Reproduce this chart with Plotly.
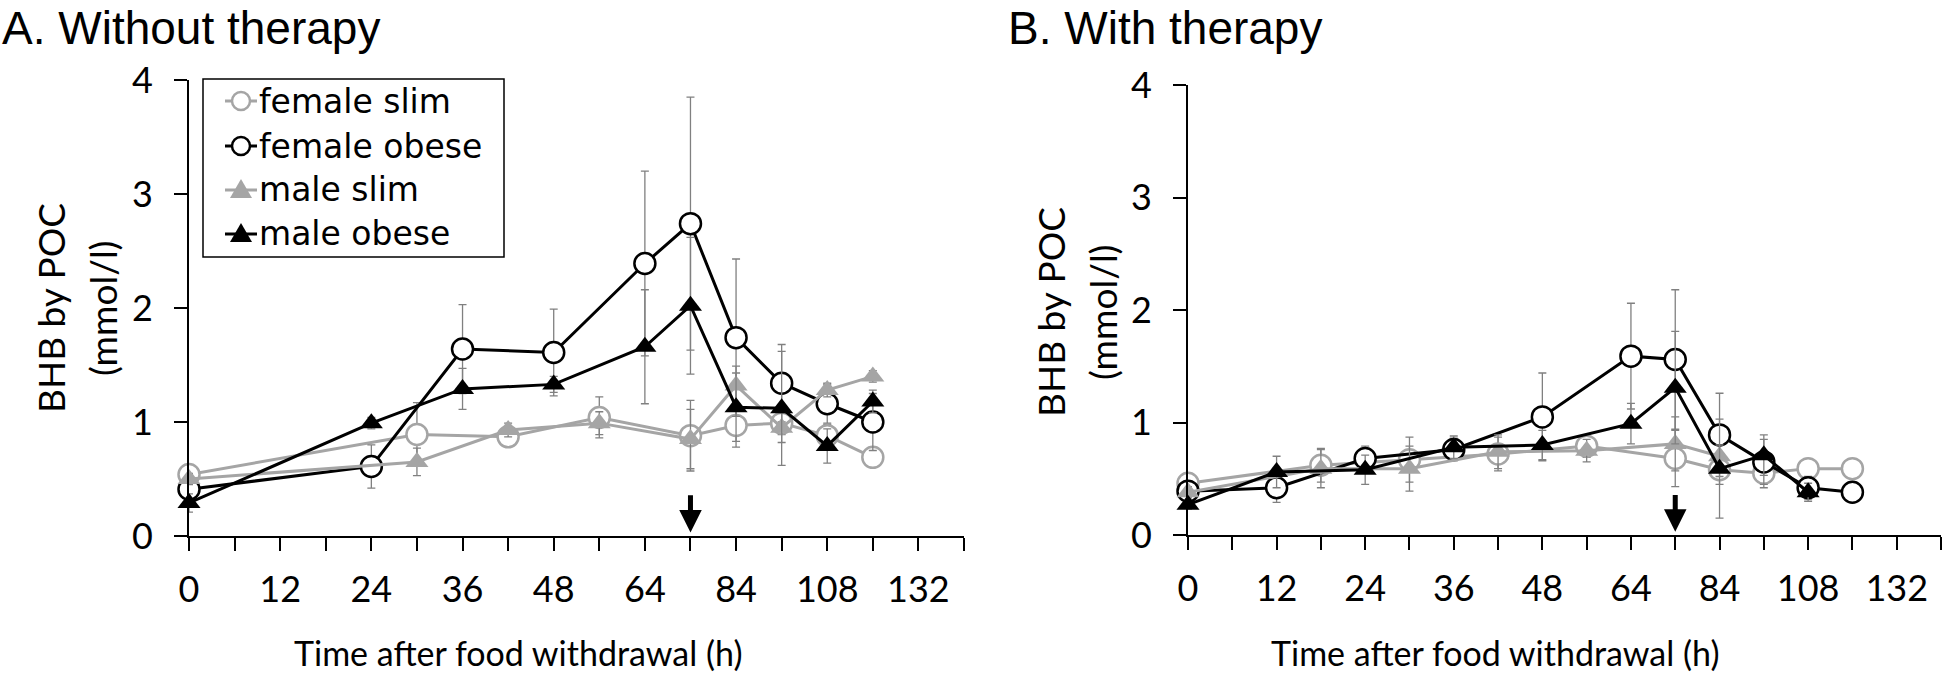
import plotly.graph_objects as go

# ---------------- data ----------------
# equally spaced time categories of the x axis (h); every second one is labelled
time_categories = [0, 6, 12, 18, 24, 30, 36, 42, 48, 56, 64, 72, 84, 96, 108, 120, 132, 144]
y_ticks = [0, 1, 2, 3, 4]
arrow_time = 72

series_names = ["female slim", "female obese", "male slim", "male obese"]

# A. Without therapy
a_female_slim_h = [0, 30, 42, 56, 72, 84, 96, 108, 120]
a_female_slim_v = [0.54, 0.89, 0.87, 1.04, 0.88, 0.97, 0.99, 0.88, 0.69]
a_female_slim_e = [0.05, 0.28, 0.07, 0.18, 0.31, 0.19, 0.10, 0.10, 0.08]

a_female_obese_h = [0, 24, 36, 48, 64, 72, 84, 96, 108, 120]
a_female_obese_v = [0.41, 0.61, 1.64, 1.61, 2.39, 2.74, 1.74, 1.34, 1.16, 1.00]
a_female_obese_e = [0.05, 0.19, 0.39, 0.38, 0.81, 1.11, 0.69, 0.34, 0.17, 0.25]

a_male_slim_h = [0, 30, 42, 56, 72, 84, 96, 108, 120]
a_male_slim_v = [0.50, 0.65, 0.93, 0.99, 0.85, 1.32, 0.95, 1.28, 1.40]
a_male_slim_e = [0.05, 0.12, 0.06, 0.10, 0.26, 0.17, 0.13, 0.06, 0.05]

a_male_obese_h = [0, 24, 36, 48, 64, 72, 84, 96, 108, 120]
a_male_obese_v = [0.29, 0.99, 1.29, 1.33, 1.66, 2.02, 1.13, 1.12, 0.79, 1.18]
a_male_obese_e = [0.08, 0.05, 0.18, 0.07, 0.50, 0.60, 0.30, 0.50, 0.15, 0.10]

# B. With therapy
b_female_slim_h = [0, 18, 30, 42, 56, 72, 84, 96, 108, 120]
b_female_slim_v = [0.46, 0.62, 0.67, 0.72, 0.79, 0.68, 0.58, 0.55, 0.59, 0.59]
b_female_slim_e = [0.05, 0.15, 0.20, 0.15, 0.10, 0.25, 0.13, 0.13, 0.05, 0.05]

b_female_obese_h = [0, 12, 24, 36, 48, 64, 72, 84, 96, 108, 120]
b_female_obese_v = [0.39, 0.42, 0.68, 0.76, 1.05, 1.59, 1.56, 0.89, 0.65, 0.42, 0.38]
b_female_obese_e = [0.04, 0.13, 0.11, 0.10, 0.39, 0.47, 0.62, 0.37, 0.20, 0.10, 0.05]

b_male_slim_h = [0, 18, 30, 42, 56, 72, 84]
b_male_slim_v = [0.38, 0.59, 0.59, 0.74, 0.75, 0.81, 0.70]
b_male_slim_e = [0.05, 0.17, 0.20, 0.15, 0.10, 0.24, 0.10]

b_male_obese_h = [0, 12, 24, 36, 48, 64, 72, 84, 96, 108]
b_male_obese_v = [0.27, 0.56, 0.58, 0.78, 0.80, 0.99, 1.31, 0.59, 0.71, 0.38]
b_male_obese_e = [0.04, 0.14, 0.13, 0.10, 0.13, 0.18, 0.50, 0.44, 0.18, 0.08]

# ---------------- styling ----------------
W, H = 1946, 677
GRAY = "#A5A5A5"
ERR = "#808080"
TXT_FONT = "Lato"
LEG_FONT = "DejaVu Sans"
TITLE_FONT = "Liberation Sans, Arial"
CIRCLE_SIZE = 21
TRI_SIZE = 20

styles = {
    "female slim": dict(color=GRAY, symbol="circle", fill="white"),
    "female obese": dict(color="black", symbol="circle", fill="white"),
    "male slim": dict(color=GRAY, symbol="triangle-up", fill=GRAY),
    "male obese": dict(color="black", symbol="triangle-up", fill="black"),
}


def cat_pos(hours):
    return [time_categories.index(h) for h in hours]


def px_x(p):
    return p / W


def px_y(p):
    return (H - p) / H


panels = [
    ("x", "y", [(a_female_slim_h, a_female_slim_v, a_female_slim_e),
                (a_female_obese_h, a_female_obese_v, a_female_obese_e),
                (a_male_slim_h, a_male_slim_v, a_male_slim_e),
                (a_male_obese_h, a_male_obese_v, a_male_obese_e)]),
    ("x2", "y2", [(b_female_slim_h, b_female_slim_v, b_female_slim_e),
                  (b_female_obese_h, b_female_obese_v, b_female_obese_e),
                  (b_male_slim_h, b_male_slim_v, b_male_slim_e),
                  (b_male_obese_h, b_male_obese_v, b_male_obese_e)]),
]

fig = go.Figure()
for xa, ya, series in panels:
    for name, (hrs, vals, errs) in zip(series_names, series):
        st = styles[name]
        is_circle = st["symbol"] == "circle"
        fig.add_trace(go.Scatter(
            x=cat_pos(hrs), y=vals, name=name, xaxis=xa, yaxis=ya,
            mode="lines+markers", showlegend=False, cliponaxis=False,
            line=dict(color=st["color"], width=3),
            marker=dict(symbol=st["symbol"], size=CIRCLE_SIZE if is_circle else TRI_SIZE,
                        color=st["fill"],
                        line=dict(color=st["color"], width=2.5 if is_circle else 0)),
            error_y=dict(type="data", array=errs, visible=True, color=ERR,
                         thickness=1.3, width=4),
        ))

tick_vals = list(range(len(time_categories)))
tick_text = [str(t) if i % 2 == 0 else "" for i, t in enumerate(time_categories)]

xaxis_common = dict(
    range=[0, len(time_categories) - 1], tickvals=tick_vals, ticktext=tick_text,
    showline=True, linecolor="black", linewidth=2, ticks="outside", ticklen=13,
    tickwidth=2, tickcolor="black", showgrid=False, zeroline=False, automargin=False,
    tickfont=dict(family=TXT_FONT, size=36, color="black"), ticklabelstandoff=8,
)
yaxis_common = dict(
    range=[0, 4], tickvals=y_ticks, showline=True, linecolor="black", linewidth=2,
    ticks="outside", ticklen=13, tickwidth=2, tickcolor="black", showgrid=False,
    zeroline=False, automargin=False, tickfont=dict(family=TXT_FONT, size=36, color="black"),
    ticklabelstandoff=14,
)

fig.update_layout(
    width=W, height=H, margin=dict(l=0, r=0, t=0, b=0, autoexpand=False),
    paper_bgcolor="white", plot_bgcolor="white", showlegend=False,
    xaxis=dict(domain=[px_x(189), px_x(964)], anchor="y", **xaxis_common),
    yaxis=dict(domain=[px_y(536), px_y(80)], anchor="x", **yaxis_common),
    xaxis2=dict(domain=[px_x(1188), px_x(1941)], anchor="y2", **xaxis_common),
    yaxis2=dict(domain=[px_y(535), px_y(85)], anchor="x2", **yaxis_common),
)

annotations = []
shapes = []
# panel titles
for txt, xpx in [("A. Without therapy", 0), ("B. With therapy", 1006)]:
    annotations.append(dict(text=txt, xref="paper", yref="paper", x=px_x(xpx), y=1.0,
                            xanchor="left", yanchor="top", showarrow=False,
                            font=dict(family=TITLE_FONT, size=46, color="black")))
# y-axis titles (two lines) and x-axis titles
for axis_px, yt_center, xt_center in [(189, 308, 518), (1188, 312, 1495)]:
    for line, off in [("BHB by POC", -138), ("(mmol/l)", -86)]:
        annotations.append(dict(text=line, xref="paper", yref="paper",
                                x=px_x(axis_px + off), y=px_y(yt_center), xanchor="center",
                                yanchor="middle", textangle=-90, showarrow=False,
                                font=dict(family=TXT_FONT, size=37, color="black")))
    annotations.append(dict(text="Time after food withdrawal (h)", xref="paper", yref="paper",
                            x=px_x(xt_center), y=px_y(652), xanchor="center", yanchor="middle",
                            showarrow=False, font=dict(family=TXT_FONT, size=34, color="black")))
# arrows marking the time point
for xa, ya in [("x", "y"), ("x2", "y2")]:
    p = time_categories.index(arrow_time)
    annotations.append(dict(text="", xref=xa, yref=ya, x=p, y=0.03, axref=xa, ayref=ya,
                            ax=p, ay=0.37, showarrow=True, arrowhead=2, arrowsize=0.9,
                            arrowwidth=5, arrowcolor="black", standoff=0))

# legend (panel A) drawn as a boxed key
leg_box = (203, 79, 504, 257)
leg_rows = [101, 146, 190, 234]
shapes.append(dict(type="rect", xref="paper", yref="paper",
                   x0=px_x(leg_box[0]), x1=px_x(leg_box[2]),
                   y0=px_y(leg_box[3]), y1=px_y(leg_box[1]),
                   line=dict(color="black", width=1.5), fillcolor="rgba(0,0,0,0)"))
for name, ry in zip(series_names, leg_rows):
    st = styles[name]
    shapes.append(dict(type="line", xref="paper", yref="paper",
                       x0=px_x(225), x1=px_x(257), y0=px_y(ry), y1=px_y(ry),
                       line=dict(color=st["color"], width=3)))
    if st["symbol"] == "circle":
        r = 9
        shapes.append(dict(type="circle", xref="paper", yref="paper",
                           x0=px_x(241 - r), x1=px_x(241 + r),
                           y0=px_y(ry + r), y1=px_y(ry - r),
                           fillcolor="white", line=dict(color=st["color"], width=2.5)))
    else:
        path = (f"M {px_x(230)} {px_y(ry + 8)} L {px_x(252)} {px_y(ry + 8)} "
                f"L {px_x(241)} {px_y(ry - 11)} Z")
        shapes.append(dict(type="path", xref="paper", yref="paper", path=path,
                           fillcolor=st["fill"], line=dict(color=st["color"], width=0)))
    annotations.append(dict(text=name, xref="paper", yref="paper", x=px_x(257), y=px_y(ry),
                            xanchor="left", yanchor="middle", showarrow=False,
                            font=dict(family=LEG_FONT, size=33, color="black")))

fig.update_layout(annotations=annotations, shapes=shapes)

fig.write_html("out.html", config={"displayModeBar": False},
               post_script="document.body.style.margin='0px';")
